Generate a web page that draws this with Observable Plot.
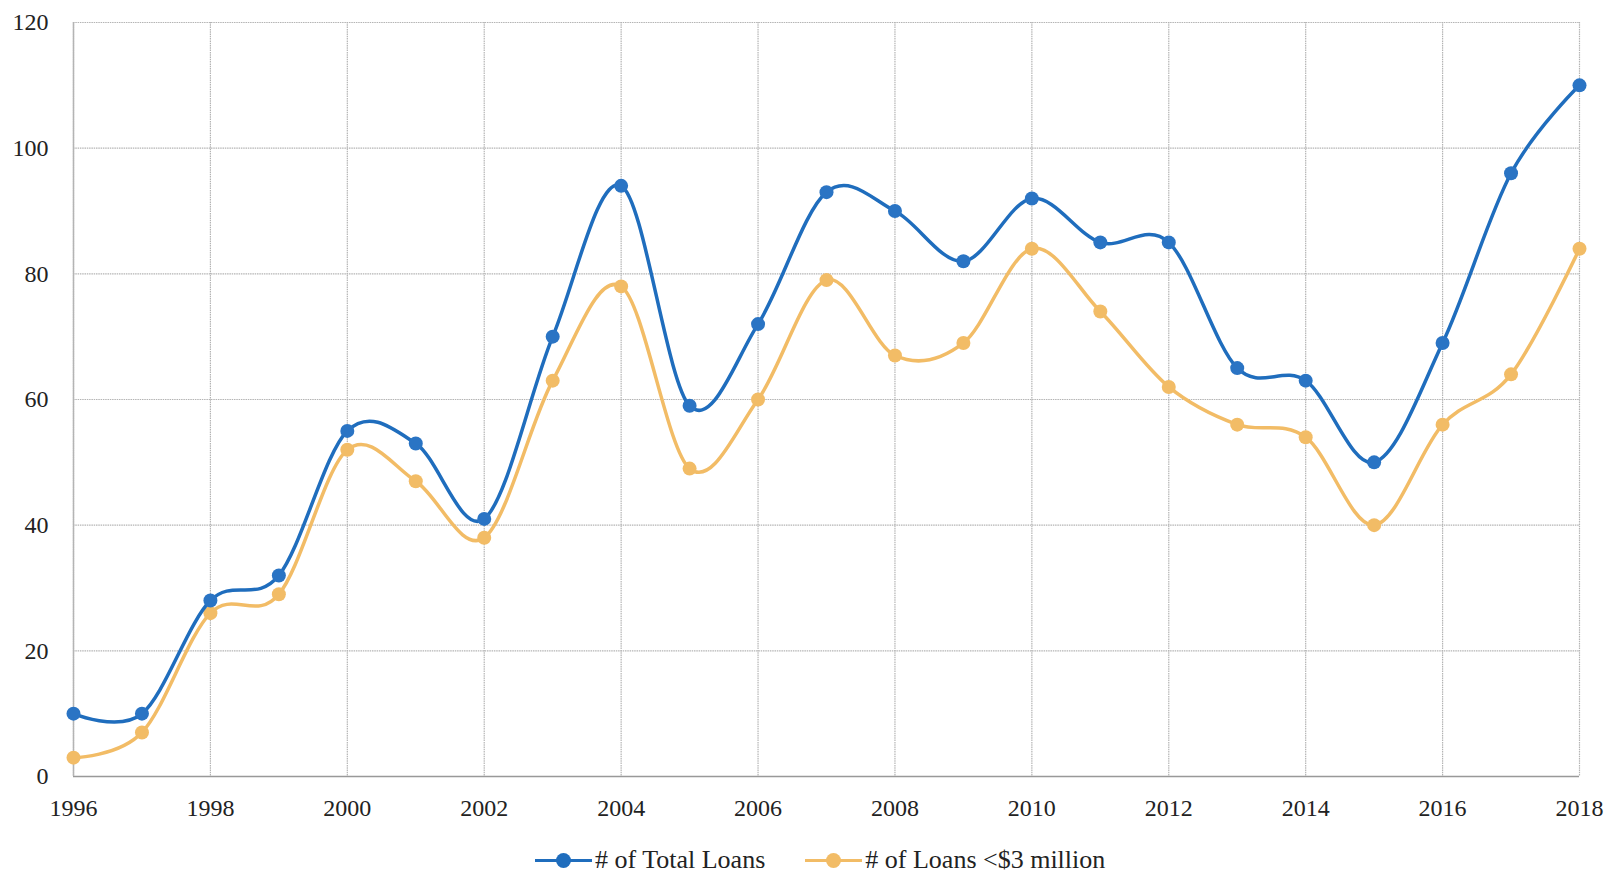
<!DOCTYPE html>
<html>
<head>
<meta charset="utf-8">
<script src="https://cdn.jsdelivr.net/npm/d3@7"></script>
<script src="https://cdn.jsdelivr.net/npm/@observablehq/plot@0.6"></script>
<style>
  html, body { margin: 0; padding: 0; background: #fff; }
  #chart { width: 1614px; }
  .legend { display: flex; justify-content: flex-start; align-items: center; height: 36px; margin-top: 22px;
    font-family: "Liberation Serif", "DejaVu Serif", serif; font-size: 26px; color: #222; padding-left: 535px; }
  .item { display: flex; align-items: center; margin-right: 40px; }
  .sw { position: relative; width: 57px; height: 15px; margin-right: 3px; }
  .sw .ln { position: absolute; left: 0; right: 0; top: 6px; height: 3.5px; }
  .sw .dt { position: absolute; left: 21px; top: 0; width: 15px; height: 15px; border-radius: 50%; }
</style>
</head>
<body>
<div id="chart"></div>
<script>
const years = [1996,1997,1998,1999,2000,2001,2002,2003,2004,2005,2006,2007,2008,2009,2010,2011,2012,2013,2014,2015,2016,2017,2018];
const totalLoans = [10,10,28,32,55,53,41,70,94,59,72,93,90,82,92,85,85,65,63,50,69,96,110];
const smallLoans = [3,7,26,29,52,47,38,63,78,49,60,79,67,69,84,74,62,56,54,40,56,64,84];
const seriesNames = ["# of Total Loans", "# of Loans <$3 million"];
const seriesColors = ["#1f6dbd", "#f2bc66"];
const xTicks = [1996,1998,2000,2002,2004,2006,2008,2010,2012,2014,2016,2018];
const yTicks = [0,20,40,60,80,100,120];

const rows = [];
years.forEach((y, i) => {
  rows.push({year: y, value: totalLoans[i], series: seriesNames[0]});
  rows.push({year: y, value: smallLoans[i], series: seriesNames[1]});
});

const plot = Plot.plot({
  width: 1614,
  height: 820,
  marginLeft: 73,
  marginRight: 35,
  marginTop: 22,
  marginBottom: 44,
  style: { fontFamily: "'Liberation Serif', 'DejaVu Serif', serif", fontSize: "24px", color: "#222", background: "#fff" },
  x: { domain: [1996, 2018], label: null },
  y: { domain: [0, 120], label: null },
  marks: [
    Plot.gridX(xTicks, { stroke: "#b4b4b4", strokeOpacity: 1, strokeWidth: 1.2, strokeDasharray: "1.5,0.8" }),
    Plot.gridY(yTicks, { stroke: "#b4b4b4", strokeOpacity: 1, strokeWidth: 1.2, strokeDasharray: "1.5,0.8" }),
    Plot.ruleY([0], { stroke: "#999", strokeWidth: 1.5 }),
    Plot.ruleX([1996], { stroke: "#b4b4b4", strokeWidth: 1.5 }),
    Plot.axisX({ ticks: xTicks, tickFormat: d => String(d), tickSize: 0, tickPadding: 22, fontSize: 24 }),
    Plot.axisY({ ticks: yTicks, tickSize: 0, tickPadding: 25, fontSize: 24 }),
    Plot.line(rows.filter(d => d.series === seriesNames[1]), { x: "year", y: "value", stroke: seriesColors[1], strokeWidth: 3.5, curve: "cardinal" }),
    Plot.dot(rows.filter(d => d.series === seriesNames[1]), { x: "year", y: "value", fill: seriesColors[1], r: 7 }),
    Plot.line(rows.filter(d => d.series === seriesNames[0]), { x: "year", y: "value", stroke: seriesColors[0], strokeWidth: 3.5, curve: "cardinal" }),
    Plot.dot(rows.filter(d => d.series === seriesNames[0]), { x: "year", y: "value", fill: "#2a74c4", r: 7 })
  ]
});

const chart = document.getElementById("chart");
chart.appendChild(plot);

const legend = document.createElement("div");
legend.className = "legend";
seriesNames.forEach((name, i) => {
  const item = document.createElement("div");
  item.className = "item";
  const sw = document.createElement("div");
  sw.className = "sw";
  const ln = document.createElement("div");
  ln.className = "ln"; ln.style.background = seriesColors[i];
  const dt = document.createElement("div");
  dt.className = "dt"; dt.style.background = seriesColors[i];
  sw.appendChild(ln); sw.appendChild(dt);
  const lab = document.createElement("span");
  lab.textContent = name;
  item.appendChild(sw); item.appendChild(lab);
  legend.appendChild(item);
});
chart.appendChild(legend);
</script>
</body>
</html>
